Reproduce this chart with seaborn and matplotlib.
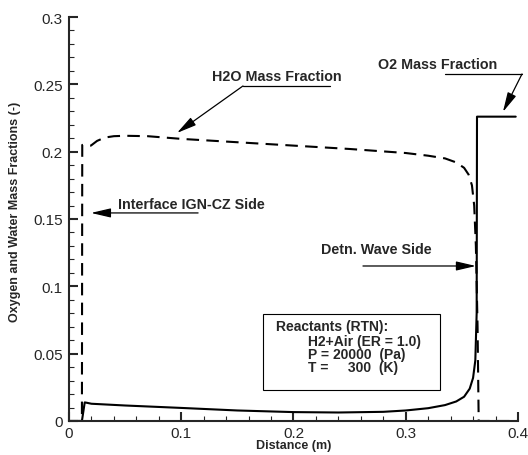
import pandas as pd
import matplotlib.pyplot as plt
import seaborn as sns
from matplotlib.patches import Rectangle
from matplotlib.ticker import MultipleLocator

sns.set_style("ticks")
plt.rcParams['font.family'] = ['Liberation Sans', 'DejaVu Sans']

# H2O mass fraction (dashed)
x_h2o = [0.0, 0.0115, 0.0118, 0.0145, 0.0195, 0.025, 0.032, 0.04, 0.05, 0.07, 0.1,
         0.15, 0.2, 0.25, 0.3, 0.32, 0.335, 0.345, 0.352, 0.356, 0.359, 0.361,
         0.3625, 0.364, 0.365, 0.4]
y_h2o = [0.0, 0.0, 0.205, 0.205, 0.2045, 0.208, 0.2105, 0.2115, 0.2118, 0.2115, 0.2095,
         0.207, 0.2045, 0.202, 0.199, 0.197, 0.195, 0.192, 0.188, 0.183, 0.175, 0.16,
         0.13, 0.07, 0.0, 0.0]

# O2 mass fraction (solid)
x_o2 = [0.0, 0.0115, 0.014, 0.016, 0.02, 0.05, 0.1, 0.15, 0.2, 0.24, 0.28, 0.3,
        0.32, 0.335, 0.345, 0.352, 0.357, 0.36, 0.362, 0.3632, 0.3635, 0.398]
y_o2 = [0.0, 0.0, 0.0138, 0.0135, 0.0128, 0.0115, 0.0097, 0.0078, 0.0066, 0.0063,
        0.0068, 0.0078, 0.0095, 0.0118, 0.0145, 0.018, 0.024, 0.032, 0.045, 0.08,
        0.226, 0.226]

x_ticks = [0, 0.1, 0.2, 0.3, 0.4]
x_tick_labels = ['0', '0.1', '0.2', '0.3', '0.4']
y_ticks = [0, 0.05, 0.1, 0.15, 0.2, 0.25, 0.3]
y_tick_labels = ['0', '0.05', '0.1', '0.15', '0.2', '0.25', '0.3']

df_h2o = pd.DataFrame({'x': x_h2o, 'y': y_h2o})
df_o2 = pd.DataFrame({'x': x_o2, 'y': y_o2})

fig = plt.figure(figsize=(5.28, 4.56), dpi=100)
ax = fig.add_axes([0.1307, 0.0746, 0.8503, 0.8859])

sns.lineplot(data=df_h2o, x='x', y='y', estimator=None, sort=False, ax=ax,
             color='black', lw=1.5, linestyle=(0, (6, 3.5)))
sns.lineplot(data=df_o2, x='x', y='y', estimator=None, sort=False, ax=ax,
             color='black', lw=1.5)

ax.set_xlim(0, 0.4)
ax.set_ylim(0, 0.3)
ax.set_xticks(x_ticks)
ax.set_xticklabels(x_tick_labels)
ax.set_yticks(y_ticks)
ax.set_yticklabels(y_tick_labels)
ax.xaxis.set_minor_locator(MultipleLocator(0.02))
ax.yaxis.set_minor_locator(MultipleLocator(0.01))
ax.tick_params(which='major', direction='in', length=6.5, width=1.5, labelsize=11)
ax.tick_params(axis='y', which='major', pad=4.5)
ax.tick_params(axis='x', which='major', pad=3.5)
ax.tick_params(which='minor', direction='in', length=3.5, width=0.8)
sns.despine(ax=ax)
for s in ['left', 'bottom']:
    ax.spines[s].set_linewidth(1.5)

ax.set_xlabel('Distance (m)', fontsize=9, fontweight='bold')
ax.set_ylabel('Oxygen and Water Mass Fractions (-)', fontsize=9, fontweight='bold')
ax.xaxis.set_label_coords(0.5, -0.044)
ax.yaxis.set_label_coords(-0.107, 0.52)

fs = 10.3
arrow = dict(arrowstyle='-|>,head_length=0.6,head_width=0.14', color='black', lw=0.9,
             mutation_scale=20, shrinkA=0, shrinkB=0)

# H2O label
ax.text(0.185, 0.256, 'H2O Mass Fraction', fontsize=fs, fontweight='bold', ha='center', va='center')
ax.plot([0.155, 0.2325], [0.2488, 0.2488], color='black', lw=0.9)
ax.annotate('', xy=(0.0962, 0.2139), xytext=(0.155, 0.2488), arrowprops=arrow)

# O2 label
ax.text(0.328, 0.265, 'O2 Mass Fraction', fontsize=fs, fontweight='bold', ha='center', va='center')
ax.plot([0.335, 0.4036], [0.2577, 0.2577], color='black', lw=0.9, clip_on=False)
ax.annotate('', xy=(0.3866, 0.2295), xytext=(0.4036, 0.2577), arrowprops=arrow,
            annotation_clip=False)

# Interface label
ax.text(0.1087, 0.1611, 'Interface IGN-CZ Side', fontsize=fs, fontweight='bold', ha='center', va='center')
ax.annotate('', xy=(0.0196, 0.1545), xytext=(0.115, 0.1545), arrowprops=arrow)

# Detonation wave label
ax.text(0.2735, 0.1277, 'Detn. Wave Side', fontsize=fs, fontweight='bold', ha='center', va='center')
ax.annotate('', xy=(0.3625, 0.1151), xytext=(0.2619, 0.1151), arrowprops=arrow)

# reactants box
bfs = 10
ax.add_patch(Rectangle((0.1729, 0.0230), 0.1576, 0.0564, fill=False, ec='black', lw=0.8))
ax.text(0.1844, 0.0705, 'Reactants (RTN):', fontsize=bfs, fontweight='bold', va='center')
box_lines = ['H2+Air (ER = 1.0)', 'P = 20000  (Pa)', 'T =     300  (K)']
for i, line in enumerate(box_lines):
    ax.text(0.2129, 0.0594 - i * 0.0097, line, fontsize=bfs, fontweight='bold', va='center')

fig.savefig('out.png', dpi=100)
